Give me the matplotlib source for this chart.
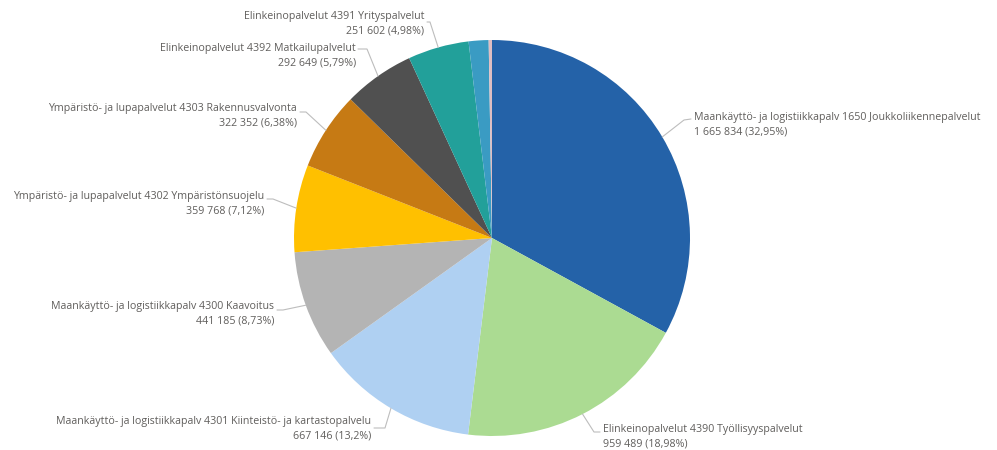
import numpy as np
import matplotlib
matplotlib.use("Agg")
import matplotlib.pyplot as plt

# ---- data ----
names = [
    "Maankäyttö- ja logistiikkapalv 1650 Joukkoliikennepalvelut",
    "Elinkeinopalvelut 4390 Työllisyyspalvelut",
    "Maankäyttö- ja logistiikkapalv 4301 Kiinteistö- ja kartastopalvelu",
    "Maankäyttö- ja logistiikkapalv 4300 Kaavoitus",
    "Ympäristö- ja lupapalvelut 4302 Ympäristönsuojelu",
    "Ympäristö- ja lupapalvelut 4303 Rakennusvalvonta",
    "Elinkeinopalvelut 4392 Matkailupalvelut",
    "Elinkeinopalvelut 4391 Yrityspalvelut",
    "Muu 1",
    "Muu 2",
]
values = [1665834, 959489, 667146, 441185, 359768, 322352, 292649, 251602, 82017, 13600]
show_label = [True, True, True, True, True, True, True, True, False, False]

colors = ["#2462A8", "#ABDB92", "#AFD0F2", "#B4B4B4", "#FFC000",
          "#C67A14", "#505050", "#22A09A", "#3A9BC3", "#DFBDC2"]

# ---- layout (pixels, image coords) ----
W, H = 997, 450
CX, CY, R = 492, 238, 198

# label text position: (ha, x, y_center), leader anchor (x,y), elbow (x,y)
label_pos = [
    ("left", 694, 125, (691, 119), (684, 120)),
    ("left", 603, 437, (600, 432), (594, 432)),
    ("right", 371, 429, (374, 428), (385, 428)),
    ("right", 274, 314, (277, 310), (283, 310)),
    ("right", 264, 204, (267, 199), (273, 199)),
    ("right", 297, 116, (300, 112), (306, 112)),
    ("right", 356, 56, (358, 49), (367, 49)),
    ("right", 424, 24, (427, 22), (430, 22)),
]

def px2d(x, y):
    return (x - CX) / R, (CY - y) / R

def fmt_num(v):
    return f"{v:,}".replace(",", " ")

def fmt_pct(p):
    s = f"{p:.2f}".rstrip("0").rstrip(".")
    return s.replace(".", ",") + "%"

fig = plt.figure(figsize=(W / 100, H / 100), dpi=100)
ax = fig.add_axes([(CX - R) / W, (H - CY - R) / H, 2 * R / W, 2 * R / H])

wedges, _ = ax.pie(values, colors=colors, startangle=90, counterclock=False,
                   radius=1.0, wedgeprops=dict(linewidth=0))
ax.set_xlim(-1, 1)
ax.set_ylim(-1, 1)
ax.axis("off")

total = sum(values)
font = ["Open Sans", "DejaVu Sans"]
li = 0
for i, w in enumerate(wedges):
    if not show_label[i]:
        continue
    ha, tx, ty, anc, elb = label_pos[li]
    li += 1
    pct = values[i] / total * 100
    txt = f"{names[i]}\n{fmt_num(values[i])} ({fmt_pct(pct)})"
    x, y = px2d(tx, ty)
    ax.text(x, y, txt, ha=ha, va="center", multialignment=ha,
            fontsize=7.7, color="#605E5C", family=font, linespacing=1.45,
            clip_on=False)
    ang = np.deg2rad((w.theta1 + w.theta2) / 2)
    ex, ey = np.cos(ang) * 1.0, np.sin(ang) * 1.0
    ax_, ay_ = px2d(*anc)
    bx, by = px2d(*elb)
    ax.plot([ax_, bx, ex], [ay_, by, ey], color="#BDBDBD", lw=0.8,
            clip_on=False, solid_capstyle="round")

fig.savefig("out.png", dpi=100)
